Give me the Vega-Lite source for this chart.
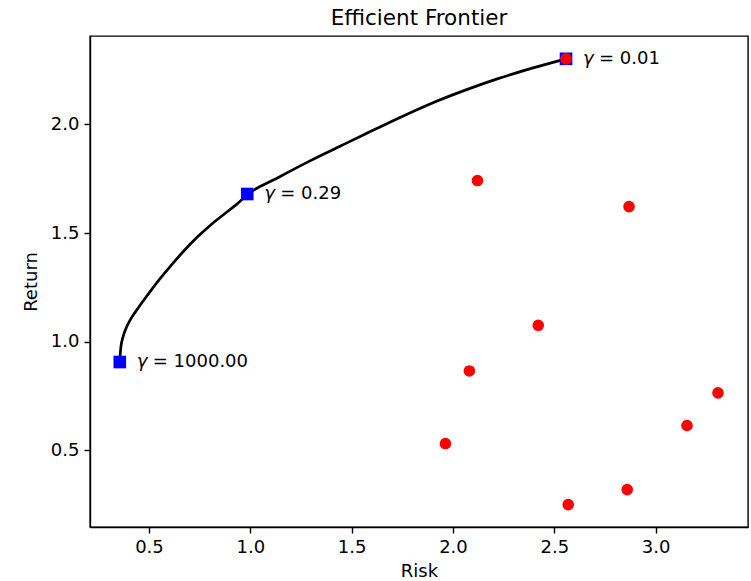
{
  "$schema": "https://vega.github.io/schema/vega-lite/v6.json",
  "width": 658,
  "height": 491,
  "autosize": {"type": "none"},
  "padding": {"left": 90, "top": 36, "right": 3, "bottom": 54},
  "background": "white",
  "title": {"text": "Efficient Frontier", "font": "DejaVu Sans", "fontSize": 21.5, "fontWeight": "normal", "color": "black", "offset": 7},
  "config": {
    "font": "DejaVu Sans",
    "view": {"stroke": "black", "strokeWidth": 1.4},
    "axis": {
      "grid": false, "domainColor": "black", "tickColor": "black", "labelColor": "black", "titleColor": "black",
      "labelFont": "DejaVu Sans", "titleFont": "DejaVu Sans", "labelFontSize": 18, "titleFontSize": 18,
      "titleFontWeight": "normal", "tickSize": 6, "tickWidth": 1.4, "labelPadding": 5, "domainWidth": 1.4
    }
  },
  "datasets": {
    "frontier": [
      {"risk": 0.356, "ret": 0.907},
      {"risk": 0.358, "ret": 0.940},
      {"risk": 0.361, "ret": 0.973},
      {"risk": 0.371, "ret": 1.019},
      {"risk": 0.388, "ret": 1.065},
      {"risk": 0.414, "ret": 1.111},
      {"risk": 0.450, "ret": 1.160},
      {"risk": 0.492, "ret": 1.214},
      {"risk": 0.542, "ret": 1.276},
      {"risk": 0.608, "ret": 1.350},
      {"risk": 0.673, "ret": 1.419},
      {"risk": 0.740, "ret": 1.483},
      {"risk": 0.806, "ret": 1.539},
      {"risk": 0.872, "ret": 1.588},
      {"risk": 0.938, "ret": 1.637},
      {"risk": 0.985, "ret": 1.677},
      {"risk": 1.136, "ret": 1.755},
      {"risk": 1.285, "ret": 1.828},
      {"risk": 1.450, "ret": 1.903},
      {"risk": 1.565, "ret": 1.955},
      {"risk": 1.731, "ret": 2.029},
      {"risk": 1.896, "ret": 2.098},
      {"risk": 2.061, "ret": 2.158},
      {"risk": 2.226, "ret": 2.212},
      {"risk": 2.391, "ret": 2.259},
      {"risk": 2.558, "ret": 2.302}
    ],
    "assets": [
      {"risk": 2.558, "ret": 2.302},
      {"risk": 2.121, "ret": 1.742},
      {"risk": 2.869, "ret": 1.622},
      {"risk": 2.421, "ret": 1.076},
      {"risk": 2.081, "ret": 0.866},
      {"risk": 1.963, "ret": 0.532},
      {"risk": 2.569, "ret": 0.251},
      {"risk": 2.860, "ret": 0.320},
      {"risk": 3.155, "ret": 0.615},
      {"risk": 3.308, "ret": 0.765}
    ],
    "gammas": [
      {"risk": 2.558, "ret": 2.302, "label": "= 0.01"},
      {"risk": 0.985, "ret": 1.680, "label": "= 0.29"},
      {"risk": 0.356, "ret": 0.907, "label": "= 1000.00"}
    ]
  },
  "encoding": {
    "x": {"field": "risk", "type": "quantitative", "title": "Risk",
      "scale": {"domain": [0.209, 3.456], "nice": false, "zero": false},
      "axis": {"values": [0.5, 1.0, 1.5, 2.0, 2.5, 3.0], "format": ".1f", "titlePadding": 6}},
    "y": {"field": "ret", "type": "quantitative", "title": "Return",
      "scale": {"domain": [0.148, 2.407], "nice": false, "zero": false},
      "axis": {"values": [0.5, 1.0, 1.5, 2.0], "format": ".1f", "titlePadding": 10}}
  },
  "layer": [
    {"data": {"name": "frontier"}, "mark": {"type": "line", "color": "black", "strokeWidth": 2.7, "interpolate": "monotone"}, "encoding": {"order": {"field": "risk", "type": "quantitative"}}},
    {"data": {"name": "gammas"}, "mark": {"type": "square", "color": "blue", "filled": true, "opacity": 1, "size": 160}},
    {"data": {"name": "assets"}, "mark": {"type": "circle", "color": "red", "opacity": 1, "size": 135}},
    {"data": {"name": "gammas"}, "mark": {"type": "text", "text": "γ", "align": "left", "baseline": "middle", "dx": 17, "fontSize": 18, "fontStyle": "italic", "font": "DejaVu Sans", "color": "black"}},
    {"data": {"name": "gammas"}, "mark": {"type": "text", "align": "left", "baseline": "middle", "dx": 33, "fontSize": 18, "font": "DejaVu Sans", "color": "black"}, "encoding": {"text": {"field": "label"}}}
  ]
}
